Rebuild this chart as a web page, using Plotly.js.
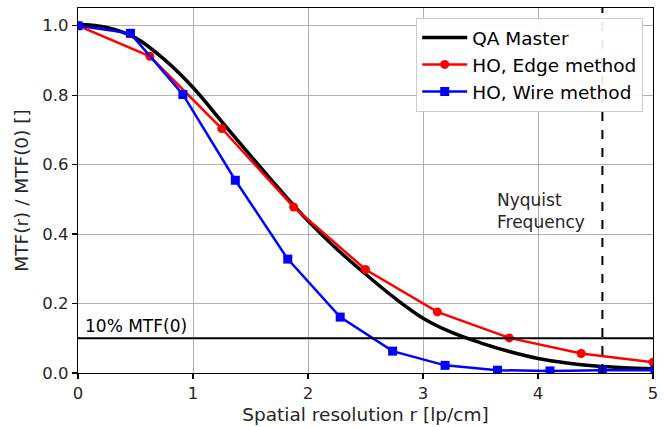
<!DOCTYPE html>
<html>
<head>
<meta charset="utf-8">
<script src="https://cdn.plot.ly/plotly-3.0.1.min.js"></script>
<style>html,body{margin:0;padding:0;background:#fff;}#chart{width:665px;height:427px;}</style>
</head>
<body>
<div id="chart"></div>
<script>
// QA Master (smooth curve)
const qaX = [0, 0.25, 0.5, 0.75, 1.0, 1.25, 1.5, 1.75, 2.0, 2.25, 2.5, 2.75, 3.0, 3.25, 3.5, 3.75, 4.0, 4.25, 4.5, 4.75, 5.0];
const qaY = [1.004, 0.995, 0.965, 0.903, 0.822, 0.724, 0.626, 0.530, 0.438, 0.357, 0.285, 0.217, 0.158, 0.117, 0.087, 0.062, 0.042, 0.029, 0.020, 0.015, 0.012];
// HO, Edge method
const edgeX = [0, 0.625, 1.25, 1.875, 2.5, 3.125, 3.75, 4.375, 5.0];
const edgeY = [1.0, 0.912, 0.704, 0.478, 0.298, 0.176, 0.101, 0.056, 0.031];
// HO, Wire method
const wireX = [0, 0.456, 0.912, 1.368, 1.824, 2.28, 2.736, 3.192, 3.648, 4.104, 4.56, 5.016];
const wireY = [1.0, 0.978, 0.802, 0.555, 0.328, 0.161, 0.063, 0.022, 0.008, 0.006, 0.008, 0.008];
const nyquist = 4.56;
const threshold = 0.1;
const xTicks = [0, 1, 2, 3, 4, 5];
const yTicks = [0.0, 0.2, 0.4, 0.6, 0.8, 1.0];

const FONT = 'DejaVu Sans, sans-serif';

const traces = [
  {x: qaX, y: qaY, name: 'QA Master', mode: 'lines', type: 'scatter',
   line: {color: '#000000', width: 3.5, shape: 'spline', smoothing: 1}},
  {x: edgeX, y: edgeY, name: 'HO, Edge method', mode: 'lines+markers', type: 'scatter',
   line: {color: '#ff0000', width: 2.5}, marker: {symbol: 'circle', size: 9, color: '#ff0000'}},
  {x: wireX, y: wireY, name: 'HO, Wire method', mode: 'lines+markers', type: 'scatter',
   line: {color: '#0000ff', width: 2.5}, marker: {symbol: 'square', size: 9, color: '#0000ff'}}
];

const layout = {
  width: 665, height: 427,
  margin: {l: 77.5, r: 12, t: 8, b: 54.3},
  paper_bgcolor: '#ffffff', plot_bgcolor: '#ffffff',
  font: {family: FONT, color: '#262626', size: 16.5},
  showlegend: true,
  legend: {
    x: 0.983, y: 0.973, xanchor: 'right', yanchor: 'top',
    bgcolor: 'rgba(255,255,255,0.9)', bordercolor: '#cccccc', borderwidth: 1,
    font: {family: FONT, size: 18.5, color: '#000'}, tracegroupgap: 0, itemwidth: 45
  },
  xaxis: {
    range: [0, 5], tickvals: xTicks, ticktext: xTicks.map(String),
    showgrid: true, gridcolor: '#b0b0b0', gridwidth: 1,
    zeroline: false, showline: true, linecolor: '#000', linewidth: 1.2, mirror: true,
    ticks: 'outside', ticklen: 5, tickcolor: '#000', tickwidth: 1.2,
    tickfont: {family: FONT, size: 16.5, color: '#262626'},
    title: {text: 'Spatial resolution r [lp/cm]', font: {family: FONT, size: 18.5, color: '#262626'}, standoff: 6}
  },
  yaxis: {
    range: [0, 1.051], tickvals: yTicks, ticktext: yTicks.map(v => v.toFixed(1)),
    showgrid: true, gridcolor: '#b0b0b0', gridwidth: 1,
    zeroline: false, showline: true, linecolor: '#000', linewidth: 1.2, mirror: true,
    ticks: 'outside', ticklen: 5, tickcolor: '#000', tickwidth: 1.2,
    tickfont: {family: FONT, size: 16.5, color: '#262626'},
    title: {text: 'MTF(r) / MTF(0) []', font: {family: FONT, size: 18.5, color: '#262626'}, standoff: 8}
  },
  shapes: [
    {type: 'line', xref: 'paper', yref: 'y', x0: 0, x1: 1, y0: threshold, y1: threshold,
     line: {color: '#000', width: 1.8}},
    {type: 'line', xref: 'x', yref: 'paper', x0: nyquist, x1: nyquist, y0: 0, y1: 1,
     line: {color: '#000', width: 2, dash: 'dash'}}
  ],
  annotations: [
    {xref: 'x', yref: 'y', x: 0.04, y: threshold, xanchor: 'left', yanchor: 'bottom',
     text: '10% MTF(0)', showarrow: false, font: {family: FONT, size: 17, color: '#000'}},
    {xref: 'x', yref: 'y', x: 3.63, y: 0.466, xanchor: 'left', yanchor: 'middle', align: 'left',
     text: 'Nyquist<br>Frequency', showarrow: false, font: {family: FONT, size: 17, color: '#262626'}}
  ]
};

Plotly.newPlot('chart', traces, layout, {displayModeBar: false, staticPlot: true});
</script>
</body>
</html>
